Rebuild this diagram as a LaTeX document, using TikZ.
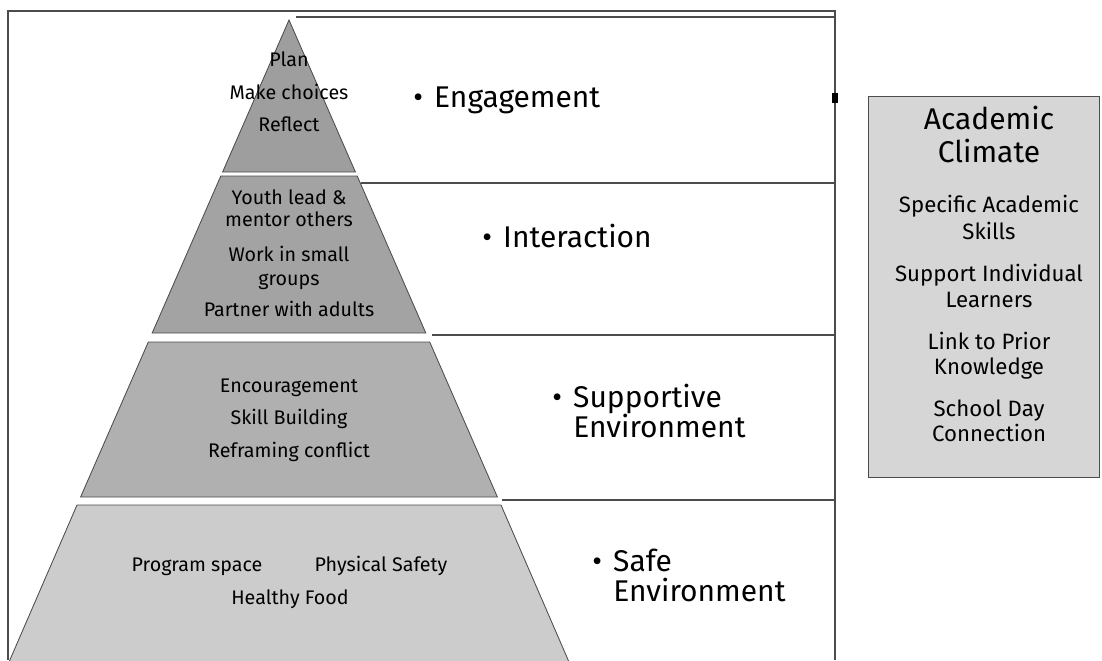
\documentclass[tikz,border=0pt]{standalone}
\usepackage{fontspec}
\setmainfont{Fira Sans}
\newcommand{\bul}{\makebox[0.7em][l]{\textbullet}}
\newcommand{\nobul}{\hspace*{0.7em}}
\tikzset{
  tier/.style={draw=black!70, line width=0.6pt},
  band/.style={draw=black!70, line width=1.2pt},
  tiertext/.style={font=\fontsize{14}{16}\selectfont, inner sep=0pt, text height=1.5ex, text depth=.25ex},
  bandtext/.style={font=\fontsize{21.3}{24}\selectfont, inner sep=0pt, anchor=west, text height=1.5ex, text depth=.25ex},
  boxtitle/.style={font=\fontsize{21.3}{23}\selectfont, inner sep=0pt, text height=1.5ex, text depth=.25ex},
  boxtext/.style={font=\fontsize{15.8}{18}\selectfont, inner sep=0pt, text height=1.5ex, text depth=.25ex},
}
\begin{document}
\begin{tikzpicture}[x=0.025cm, y=-0.025cm]
\useasboundingbox (0,0) rectangle (1102,660);
\clip (0,0) rectangle (1102,660);

% Outer frame
\draw [band] (8,660) -- (8,11) -- (835,11) -- (835,660);
\fill (832,93) rectangle (838,103);

% Band lines
\draw [band] (296,17) -- (835,17);
\draw [band] (361,183) -- (835,183);
\draw [band] (432,335) -- (835,335);
\draw [band] (502,500) -- (835,500);

% Tier 1
\draw [tier, fill=black!38] (289,20) -- (355.4,172) -- (222.6,172) -- cycle;
% Tier 2
\draw [tier, fill=black!36] (220.8,176) -- (357.2,176) -- (425.8,333) -- (152.2,333) -- cycle;
% Tier 3
\draw [tier, fill=black!31] (148.3,342) -- (429.7,342) -- (497.4,497) -- (80.6,497) -- cycle;
% Tier 4
\draw [tier, fill=black!20] (77,505) -- (501,505) -- (569,662) -- (9,662) -- cycle;

% Texts in tier 1
\node [tiertext] (plan) at (289,62) {Plan};
\node [tiertext] (choices) at (289,95) {Make choices};
\node [tiertext] (reflect) at (289,127) {Reflect};

% Texts in tier 2
\node [tiertext] (youth) at (289,200) {Youth lead \&};
\node [tiertext] (mentor) at (289,222) {mentor others};
\node [tiertext] (small) at (289,257) {Work in small};
\node [tiertext] (groups) at (289,281) {groups};
\node [tiertext] (partner) at (289,312) {Partner with adults};

% Texts in tier 3
\node [tiertext] (encourage) at (289,388) {Encouragement};
\node [tiertext] (skill) at (289,420) {Skill Building};
\node [tiertext] (reframe) at (289,453) {Reframing conflict};

% Texts in tier 4
\node [tiertext] (space) at (197,567) {Program space};
\node [tiertext] (safety) at (381,567) {Physical Safety};
\node [tiertext] (food) at (290,600) {Healthy Food};

% Band labels
\node [bandtext] (engage) at (413,103) {\bul Engagement};
\node [bandtext] (interact) at (482,243) {\bul Interaction};
\node [bandtext] (support) at (552,403) {\bul Supportive};
\node [bandtext] (supportenv) at (552,433) {\nobul Environment};
\node [bandtext] (safe) at (592,567) {\bul Safe};
\node [bandtext] (safeenv) at (592,597) {\nobul Environment};

% Academic climate box
\draw [tier, fill=black!16] (868,96) rectangle (1099,477);
\node [boxtitle] (academic) at (989,125) {Academic};
\node [boxtitle] (climate) at (989,158) {Climate};
\node [boxtext] (specific) at (989,208) {Specific Academic};
\node [boxtext] (skills) at (989,235) {Skills};
\node [boxtext] (individual) at (989,277) {Support Individual};
\node [boxtext] (learners) at (989,303) {Learners};
\node [boxtext] (prior) at (989,345) {Link to Prior};
\node [boxtext] (knowledge) at (989,370) {Knowledge};
\node [boxtext] (schoolday) at (989,412) {School Day};
\node [boxtext] (connection) at (989,437) {Connection};
\end{tikzpicture}
\end{document}
